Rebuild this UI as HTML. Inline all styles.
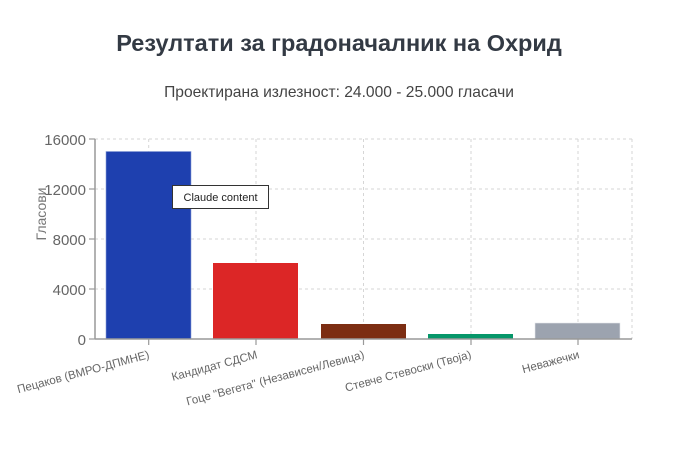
<!DOCTYPE html>
<html><head><meta charset="utf-8"><style>
body{margin:0;background:#fff;width:682px;height:455px;overflow:hidden;font-family:"Liberation Sans","DejaVu Sans",sans-serif}
</style></head><body>
<svg width="682" height="455" xmlns="http://www.w3.org/2000/svg" font-family="Liberation Sans, DejaVu Sans, sans-serif">
<text x="339" y="51" text-anchor="middle" font-size="23.5" font-weight="bold" fill="#333a44">Резултати за градоначалник на Охрид</text>
<text x="339" y="97" text-anchor="middle" font-size="15.6" fill="#444">Проектирана излезност: 24.000 - 25.000 гласачи</text>
<g stroke="#d6d6d6" stroke-dasharray="3,3" stroke-width="1">
<line x1="95" y1="139" x2="632" y2="139"/><line x1="95" y1="189" x2="632" y2="189"/>
<line x1="95" y1="239" x2="632" y2="239"/><line x1="95" y1="289" x2="632" y2="289"/>
<line x1="148.7" y1="139" x2="148.7" y2="339"/><line x1="256" y1="139" x2="256" y2="339"/>
<line x1="363.5" y1="139" x2="363.5" y2="339"/><line x1="471" y1="139" x2="471" y2="339"/>
<line x1="578" y1="139" x2="578" y2="339"/><line x1="632" y1="139" x2="632" y2="339"/>
</g>
<rect x="106" y="151.5" width="85" height="187.5" fill="#1e40af" stroke="#8aa0d8" stroke-width="0.6"/>
<rect x="213" y="263" width="85" height="76" fill="#dc2626"/>
<rect x="321" y="324" width="85" height="15" fill="#7c2d12"/>
<rect x="428" y="334" width="85" height="5" fill="#059669"/>
<rect x="535" y="323" width="85" height="16" fill="#9ca3af" stroke="#e5e7eb" stroke-width="0.6"/>
<g stroke="#999" stroke-width="1.5"><line x1="95" y1="139" x2="95" y2="339"/><line x1="95" y1="339" x2="632" y2="339"/></g>
<g stroke="#999" stroke-width="1.2">
<line x1="89" y1="139" x2="95" y2="139"/><line x1="89" y1="189" x2="95" y2="189"/><line x1="89" y1="239" x2="95" y2="239"/><line x1="89" y1="289" x2="95" y2="289"/><line x1="89" y1="339" x2="95" y2="339"/>
<line x1="148.7" y1="339" x2="148.7" y2="345"/><line x1="256" y1="339" x2="256" y2="345"/><line x1="363.5" y1="339" x2="363.5" y2="345"/><line x1="471" y1="339" x2="471" y2="345"/><line x1="578" y1="339" x2="578" y2="345"/>
</g>
<g font-size="15" fill="#666" text-anchor="end">
<text x="86" y="145">16000</text><text x="86" y="195">12000</text><text x="86" y="245">8000</text><text x="86" y="295">4000</text><text x="86" y="345">0</text>
</g>
<text transform="translate(46,214) rotate(-90)" text-anchor="middle" font-size="14" fill="#777">Гласови</text>
<g font-size="11.6" fill="#666" text-anchor="end">
<text transform="translate(150,358) rotate(-15)">Пецаков (ВМРО-ДПМНЕ)</text>
<text transform="translate(258,358) rotate(-15)">Кандидат СДСМ</text>
<text transform="translate(365,358) rotate(-15)">Гоце "Вегета" (Независен/Левица)</text>
<text transform="translate(472,358) rotate(-15)">Стевче Стевоски (Твоја)</text>
<text transform="translate(580,358) rotate(-15)">Неважечки</text>
</g>
<rect x="172.5" y="185.5" width="96" height="23" fill="#fff" stroke="#333" stroke-width="1"/>
<text x="220.5" y="201" text-anchor="middle" font-size="11" fill="#222">Claude content</text>
</svg>
</body></html>
